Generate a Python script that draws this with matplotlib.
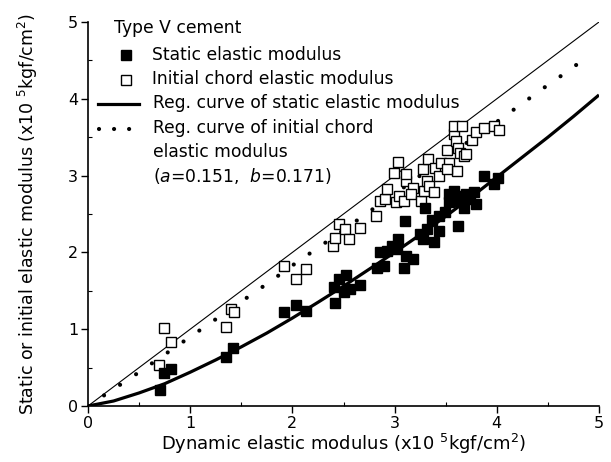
import matplotlib
matplotlib.use("Agg")
import matplotlib.pyplot as plt
from matplotlib.lines import Line2D
from matplotlib.ticker import MultipleLocator

plt.rcParams['font.family'] = ['DejaVu Sans']
plt.rcParams['mathtext.fontset'] = 'custom'
plt.rcParams['mathtext.rm'] = 'DejaVu Sans'
plt.rcParams['mathtext.it'] = 'DejaVu Sans:italic'
plt.rcParams['mathtext.default'] = 'regular'

# ---- data (x10^5 kgf/cm^2) ----
static_x = [0.70, 0.74, 0.81, 1.35, 1.42, 1.92, 2.04, 2.13, 2.42, 2.41, 2.46, 2.52,
            2.50, 2.56, 2.66, 2.83, 2.90, 2.86, 2.93, 2.97, 3.03, 3.02, 3.10, 3.09,
            3.11, 3.18, 3.25, 3.30, 3.28, 3.32, 3.37, 3.39, 3.43, 3.43, 3.49, 3.53,
            3.58, 3.62, 3.62, 3.64, 3.68, 3.70, 3.74, 3.78, 3.80, 3.87, 3.97, 4.01,
            3.58, 3.53]
static_y = [0.21, 0.43, 0.48, 0.64, 0.75, 1.22, 1.31, 1.24, 1.34, 1.55, 1.66, 1.70,
            1.48, 1.52, 1.57, 1.80, 1.82, 2.00, 2.02, 2.08, 2.17, 2.04, 2.41, 1.80,
            1.95, 1.92, 2.24, 2.58, 2.17, 2.30, 2.42, 2.14, 2.28, 2.47, 2.52, 2.76,
            2.80, 2.73, 2.35, 2.67, 2.58, 2.76, 2.69, 2.78, 2.63, 2.99, 2.89, 2.97,
            2.67, 2.65]

chord_x = [0.74, 0.81, 0.69, 1.35, 1.40, 1.43, 1.92, 2.04, 2.13, 2.40, 2.42, 2.46,
           2.51, 2.55, 2.66, 2.82, 2.86, 2.91, 2.93, 2.99, 3.03, 3.01, 3.04, 3.09,
           3.11, 3.11, 3.18, 3.16, 3.26, 3.28, 3.29, 3.32, 3.33, 3.34, 3.39, 3.40,
           3.43, 3.45, 3.51, 3.53, 3.58, 3.58, 3.60, 3.62, 3.64, 3.66, 3.68, 3.61,
           3.76, 3.80, 3.87, 3.97, 4.02, 3.51, 3.70]
chord_y = [1.02, 0.83, 0.54, 1.03, 1.26, 1.22, 1.82, 1.65, 1.79, 2.08, 2.19, 2.37,
           2.30, 2.17, 2.32, 2.48, 2.67, 2.69, 2.83, 3.04, 3.18, 2.65, 2.73, 2.67,
           2.93, 3.02, 2.84, 2.76, 2.67, 3.08, 2.80, 2.93, 3.21, 2.86, 2.79, 3.10,
           3.00, 3.17, 3.33, 3.17, 3.54, 3.65, 3.45, 3.36, 3.30, 3.65, 3.26, 3.06,
           3.47, 3.57, 3.62, 3.65, 3.60, 3.08, 3.28]

# regression curves
curve_x = [0.0, 0.25, 0.5, 0.75, 1.0, 1.25, 1.5, 1.75, 2.0, 2.25, 2.5, 2.75, 3.0,
           3.25, 3.5, 3.75, 4.0, 4.25, 4.5, 4.75, 5.0]
static_curve_y = [0.0, 0.065, 0.17, 0.29, 0.44, 0.60, 0.77, 0.95, 1.145, 1.35, 1.56,
                  1.78, 2.0, 2.23, 2.47, 2.72, 2.98, 3.24, 3.50, 3.77, 4.05]
chord_curve_x = [0.0, 0.25, 0.5, 0.75, 1.0, 1.25, 1.5, 1.75, 2.0, 2.25, 2.5, 2.75,
                 3.0, 3.25, 3.5, 3.75, 4.0, 4.25, 4.5, 4.75, 4.9]
chord_curve_y = [0.0, 0.22, 0.44, 0.67, 0.90, 1.13, 1.36, 1.59, 1.83, 2.06, 2.29,
                 2.53, 2.76, 3.00, 3.23, 3.47, 3.70, 3.94, 4.18, 4.41, 4.58]
equal_x = [0, 5]
equal_y = [0, 5]

fig = plt.figure(figsize=(6.11, 4.62), dpi=100)
ax = fig.add_axes([88/611, 56/462, 511/611, 384/462])

ax.plot(equal_x, equal_y, color='black', lw=0.8)
ax.plot(curve_x, static_curve_y, color='black', lw=2.3, solid_capstyle='butt')
ax.plot(chord_curve_x, chord_curve_y, color='black', lw=3.0,
        linestyle=(0, (0.01, 4.6)), dash_capstyle='round')
ax.plot(chord_x, chord_y, linestyle='none', marker='s', markersize=6.8,
        markerfacecolor='white', markeredgecolor='black', markeredgewidth=1.0)
ax.plot(static_x, static_y, linestyle='none', marker='s', markersize=6.8,
        markerfacecolor='black', markeredgecolor='black')

ax.set_xlim(0, 5)
ax.set_ylim(0, 5)
ax.xaxis.set_major_locator(MultipleLocator(1))
ax.yaxis.set_major_locator(MultipleLocator(1))
ax.xaxis.set_minor_locator(MultipleLocator(0.5))
ax.yaxis.set_minor_locator(MultipleLocator(0.5))
ax.tick_params(which='major', direction='out', length=5, width=1.0,
               labelsize=11.5, pad=2)
ax.tick_params(which='minor', direction='in', length=3, width=0.8)
for s in ['top', 'right']:
    ax.spines[s].set_visible(False)
for s in ['left', 'bottom']:
    ax.spines[s].set_linewidth(1.2)

ax.set_xlabel('Dynamic elastic modulus (x10 $^5$kgf/cm$^2$)', fontsize=13, labelpad=1)
ax.set_ylabel('Static or initial elastic modulus (x10 $^5$kgf/cm$^2$)', fontsize=12.5,
              labelpad=20)

# manual legend
def fx(px):
    return (px - 88) / 511
def fy(py):
    return (406 - py) / 384

fs = 12.3
ax.text(fx(114), fy(28), 'Type V cement', transform=ax.transAxes, fontsize=fs,
        va='center', ha='left')
ax.add_line(Line2D([fx(126)], [fy(55)], transform=ax.transAxes, marker='s',
                   markersize=6.5, color='black', linestyle='none'))
ax.text(fx(152), fy(55), 'Static elastic modulus', transform=ax.transAxes,
        fontsize=fs, va='center', ha='left')
ax.add_line(Line2D([fx(126)], [fy(80)], transform=ax.transAxes, marker='s',
                   markersize=6.5, markerfacecolor='white', markeredgecolor='black',
                   markeredgewidth=1.0, linestyle='none'))
ax.text(fx(152), fy(79), 'Initial chord elastic modulus', transform=ax.transAxes,
        fontsize=fs, va='center', ha='left')
ax.add_line(Line2D([fx(98), fx(139)], [fy(104), fy(104)], transform=ax.transAxes,
                   color='black', lw=2.3))
ax.text(fx(153), fy(103), 'Reg. curve of static elastic modulus',
        transform=ax.transAxes, fontsize=fs, va='center', ha='left')
ax.add_line(Line2D([fx(99), fx(133)], [fy(129), fy(129)], transform=ax.transAxes,
                   color='black', lw=3.0, linestyle=(0, (0.01, 3.6)),
                   dash_capstyle='round'))
ax.text(fx(153), fy(128), 'Reg. curve of initial chord',
        transform=ax.transAxes, fontsize=fs, va='center', ha='left')
ax.text(fx(153), fy(152), 'elastic modulus',
        transform=ax.transAxes, fontsize=fs, va='center', ha='left')
ax.text(fx(153), fy(176), r'($\mathit{a}$=0.151,  $\mathit{b}$=0.171)',
        transform=ax.transAxes, fontsize=fs, va='center', ha='left')

fig.savefig('out.png', dpi=100)
